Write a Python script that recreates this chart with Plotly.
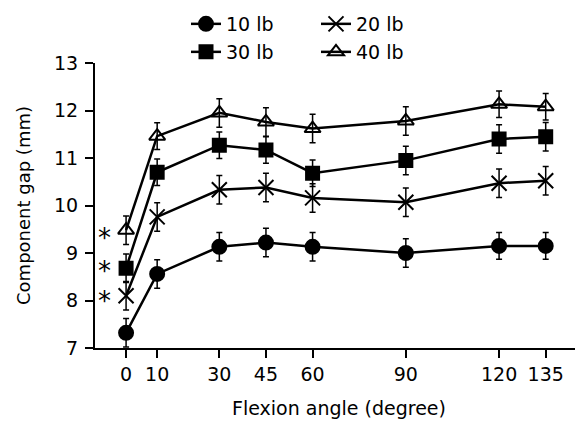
import plotly.graph_objects as go

angles = [0, 10, 30, 45, 60, 90, 120, 135]
gap_10lb = [7.32, 8.56, 9.13, 9.22, 9.13, 9.00, 9.15, 9.15]
gap_20lb = [8.10, 9.76, 10.33, 10.38, 10.16, 10.07, 10.47, 10.52]
gap_30lb = [8.68, 10.70, 11.27, 11.17, 10.68, 10.95, 11.40, 11.45]
gap_40lb = [9.48, 11.46, 11.95, 11.76, 11.62, 11.78, 12.13, 12.08]
err_10lb = [0.30, 0.30, 0.30, 0.30, 0.30, 0.30, 0.28, 0.28]
err_20lb = [0.30, 0.30, 0.30, 0.30, 0.30, 0.30, 0.30, 0.30]
err_30lb = [0.30, 0.28, 0.28, 0.28, 0.28, 0.30, 0.30, 0.30]
err_40lb = [0.30, 0.28, 0.30, 0.30, 0.30, 0.30, 0.28, 0.28]
star_y = [9.38, 8.68, 8.05]

FONT = "DejaVu Sans, sans-serif"
W, H = 575, 415  # page has an 8px body margin

series = [
    ("10 lb", gap_10lb, err_10lb, "circle", 14, "legend"),
    ("20 lb", gap_20lb, err_20lb, "x-thin-open", 15, "legend"),
    ("30 lb", gap_30lb, err_30lb, "square", 13, "legend2"),
    ("40 lb", gap_40lb, err_40lb, "triangle-up-open", 14, "legend2"),
]

fig = go.Figure()
for name, ys, es, sym, sz, lg in series:
    fig.add_trace(go.Scatter(
        x=angles, y=ys, name=name, mode="lines+markers",
        line=dict(color="black", width=2.5),
        marker=dict(symbol=sym, size=sz, color="black",
                    line=dict(color="black", width=2)),
        error_y=dict(type="data", array=es, visible=True, color="black",
                     thickness=1.5, width=3),
        legend=lg, cliponaxis=False,
    ))

for yv in star_y:
    fig.add_annotation(x=-6.8, y=yv, text="*", showarrow=False,
                       font=dict(family=FONT, size=26, color="black"),
                       yshift=-3)

legend_common = dict(orientation="h", xref="container", yref="container",
                     xanchor="left", yanchor="middle",
                     font=dict(family=FONT, size=19, color="black"),
                     entrywidth=85, entrywidthmode="pixels",
                     bgcolor="rgba(0,0,0,0)", borderwidth=0)

fig.update_layout(
    template="none",
    width=W, height=H,
    margin=dict(l=87, r=0, t=55, b=75, autoexpand=False),
    paper_bgcolor="white", plot_bgcolor="white",
    font=dict(family=FONT, size=19, color="black"),
    showlegend=True,
    legend=dict(x=178/W, y=1 - 16/H, **legend_common),
    legend2=dict(x=178/W, y=1 - 44/H, **legend_common),
    xaxis=dict(range=[-10, 147], tickvals=angles, ticktext=[str(a) for a in angles],
               automargin=False,
               showline=True, linecolor="black", linewidth=2,
               ticks="outside", ticklen=8, tickwidth=2, tickcolor="black",
               showgrid=False, zeroline=False,
               tickfont=dict(family=FONT, size=19, color="black"),
               title=dict(text="Flexion angle (degree)", standoff=18,
                          font=dict(family=FONT, size=19, color="black"))),
    yaxis=dict(range=[7, 13], tickvals=[7, 8, 9, 10, 11, 12, 13],
               automargin=False,
               showline=True, linecolor="black", linewidth=2,
               ticks="outside", ticklen=8, tickwidth=2, tickcolor="black",
               ticklabelstandoff=3,
               showgrid=False, zeroline=False,
               tickfont=dict(family=FONT, size=19, color="black"),
               title=dict(text="Component gap (mm)", standoff=19,
                          font=dict(family=FONT, size=18, color="black"))),
)

fig.write_html("out.html")
